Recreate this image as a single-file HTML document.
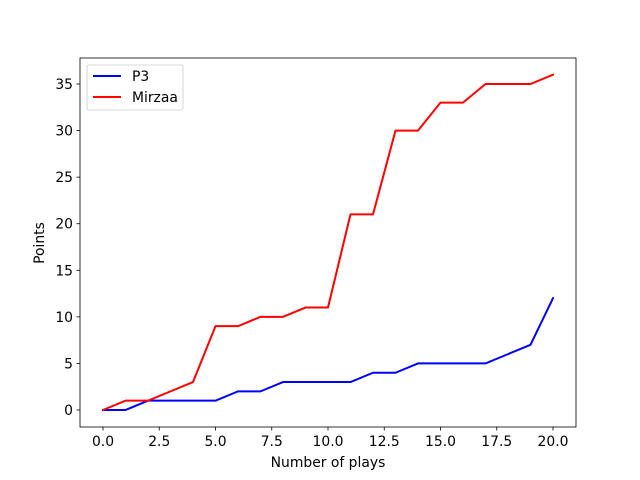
<!DOCTYPE html>
<html><head><meta charset="utf-8"><style>body{margin:0;background:#fff}svg{display:block}text{font-family:"DejaVu Sans","Liberation Sans",sans-serif;font-size:13.9px;fill:#000}</style></head>
<body>
<svg id="chart" width="640" height="480"></svg>
<script>
const xs=[0,1,2,3,4,5,6,7,8,9,10,11,12,13,14,15,16,17,18,19,20];
const p3=[0,0,1,1,1,1,2,2,3,3,3,3,4,4,5,5,5,5,6,7,12];
const mirzaa=[0,1,1,2,3,9,9,10,10,11,11,21,21,30,30,33,33,35,35,35,36];
const xTicks=[0,2.5,5,7.5,10,12.5,15,17.5,20];
const xTickLabels=["0.0","2.5","5.0","7.5","10.0","12.5","15.0","17.5","20.0"];
const yTicks=[0,5,10,15,20,25,30,35];
const yTickLabels=["0","5","10","15","20","25","30","35"];
const L=80,R=576,T=58,B=427;
const sx=v=>103+(v-0)*22.5;
const sy=v=>410-v*(326/35);
const svg=document.getElementById('chart');
const NS='http://www.w3.org/2000/svg';
function mk(t,a,p){const e=document.createElementNS(NS,t);for(const k in a)e.setAttribute(k,a[k]);(p||svg).appendChild(e);return e;}
xTicks.forEach((v,i)=>{
 const t=mk('line',{x1:sx(v),x2:sx(v),y1:B,y2:B+3.5,stroke:'#000','stroke-width':0.8});
 
 
 const l=mk('text',{x:sx(v),y:B+19,'text-anchor':'middle'});l.textContent=xTickLabels[i];
 
 
});
yTicks.forEach((v,i)=>{
 const t=mk('line',{x1:L-3.5,x2:L,y1:sy(v),y2:sy(v),stroke:'#000','stroke-width':0.8});
 
 
 const l=mk('text',{x:L-7,y:sy(v)+5,'text-anchor':'end'});l.textContent=yTickLabels[i];
 
 
});
function series(vals,color,name){
 const p=mk('polyline',{points:xs.map((x,i)=>sx(x)+','+sy(vals[i])).join(' '),fill:'none',stroke:color,'stroke-width':2,'stroke-linejoin':'round','stroke-linecap':'square'});
 
 
}
series(p3,'#0000ff','p3-line');
series(mirzaa,'#ff0000','mirzaa-line');
const fr=mk('rect',{x:L,y:T,width:R-L,height:B-T,fill:'none',stroke:'#000','stroke-width':0.8});


</script>
<div style="position:absolute;left:0;top:0">
<svg width="640" height="480" style="position:absolute;left:0;top:0">
<text x="328" y="467" text-anchor="middle">Number of plays</text>
<text x="44" y="243" text-anchor="middle" transform="rotate(-90 44 243)">Points</text>
<g>
<rect x="87" y="65" width="96" height="45" rx="2" fill="#fff" fill-opacity="0.8" stroke="#ccc" stroke-width="0.8"/>
<g><line x1="93" x2="121" y1="76" y2="76" stroke="#0000ff" stroke-width="2"/><text x="132" y="81">P3</text></g>
<g><line x1="93" x2="121" y1="97" y2="97" stroke="#ff0000" stroke-width="2"/><text x="132" y="102">Mirzaa</text></g>
</g>
</svg></div>
</body></html>
